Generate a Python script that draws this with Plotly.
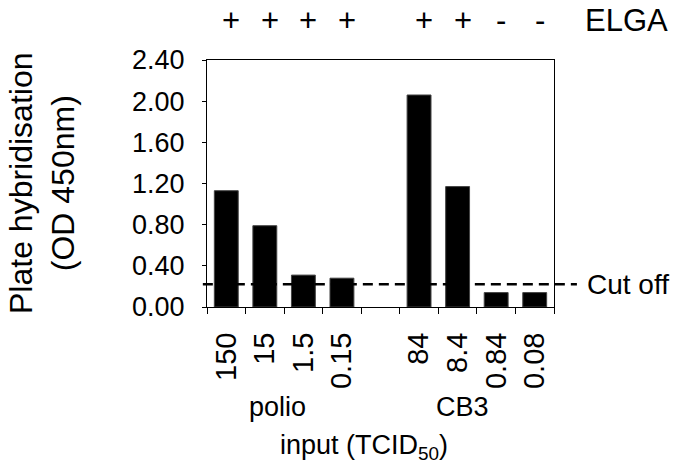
import plotly.graph_objects as go

# Data
categories = ["150", "15", "1.5", "0.15", " ", "84", "8.4", "0.84", "0.08"]
od_values = [1.13, 0.79, 0.31, 0.28, None, 2.06, 1.17, 0.14, 0.14]
elga_marks = ["+", "+", "+", "+", "", "+", "+", "-", "-"]
cutoff = 0.22
y_ticks = [0.0, 0.4, 0.8, 1.2, 1.6, 2.0, 2.4]
groups = ["polio", "CB3"]

FONT = "Liberation Sans, Arial, sans-serif"

fig = go.Figure()
fig.add_trace(go.Bar(
    x=categories, y=od_values,
    marker=dict(color="black", line=dict(color="#444", width=1)),
    width=0.62,
    showlegend=False,
))

# Cut-off dashed line
fig.add_shape(type="line", xref="paper", yref="y",
              x0=-0.012, x1=1.066, y0=cutoff, y1=cutoff,
              line=dict(color="black", width=2.5, dash="10px,6px"))

annotations = []
annotations.append(dict(text="Cut off", xref="paper", yref="y", x=1.09, y=cutoff,
                        xanchor="left", yanchor="middle", showarrow=False,
                        font=dict(family=FONT, size=28, color="black")))
for i, m in enumerate(elga_marks):
    if m:
        annotations.append(dict(text=m, xref="x", yref="paper", x=i, y=1.158,
                                xshift=5, xanchor="center", yanchor="middle",
                                showarrow=False,
                                font=dict(family=FONT, size=31, color="black")))
annotations.append(dict(text="ELGA", xref="paper", yref="paper", x=1.2075, y=1.158,
                        xanchor="center", yanchor="middle", showarrow=False,
                        font=dict(family=FONT, size=31, color="black")))
annotations.append(dict(text=groups[0], xref="paper", yref="paper", x=0.2046, y=-0.405,
                        xanchor="center", yanchor="middle", showarrow=False,
                        font=dict(family=FONT, size=27, color="black")))
annotations.append(dict(text=groups[1], xref="paper", yref="paper", x=0.7358, y=-0.405,
                        xanchor="center", yanchor="middle", showarrow=False,
                        font=dict(family=FONT, size=27, color="black")))
annotations.append(dict(text="input (TCID<sub>50</sub>)", xref="paper", yref="paper",
                        x=0.4524, y=-0.567, xanchor="center", yanchor="middle",
                        showarrow=False, font=dict(family=FONT, size=27, color="black")))
annotations.append(dict(text="Plate hybridisation<br>(OD 450nm)", xref="paper", yref="paper",
                        x=-0.477, y=0.5, xanchor="center", yanchor="middle",
                        textangle=-90, showarrow=False,
                        font=dict(family=FONT, size=32, color="black")))

fig.update_layout(
    width=674, height=466,
    margin=dict(l=207, r=120, t=60, b=159, pad=0),
    paper_bgcolor="white", plot_bgcolor="white",
    font=dict(family=FONT, color="black"),
    bargap=0.38,
    annotations=annotations,
)
fig.update_xaxes(
    type="category", categoryorder="array", categoryarray=categories,
    range=[-0.5, 8.5],
    showline=True, linecolor="black", linewidth=1, mirror=True,
    ticks="outside", tickson="boundaries", ticklen=6, tickcolor="black", tickwidth=1,
    tickangle=-90, tickfont=dict(family=FONT, size=29, color="black"),
    ticklabelstandoff=13,
    showgrid=False, zeroline=False,
)
fig.update_yaxes(
    range=[0, 2.4], tickvals=y_ticks, tickformat=".2f",
    showline=True, linecolor="black", linewidth=1, mirror=True,
    ticks="outside", ticklen=4, tickcolor="black", tickwidth=1,
    tickfont=dict(family=FONT, size=27, color="black"),
    ticklabelstandoff=12,
    showgrid=False, zeroline=False,
)

fig.write_html("out.html")
